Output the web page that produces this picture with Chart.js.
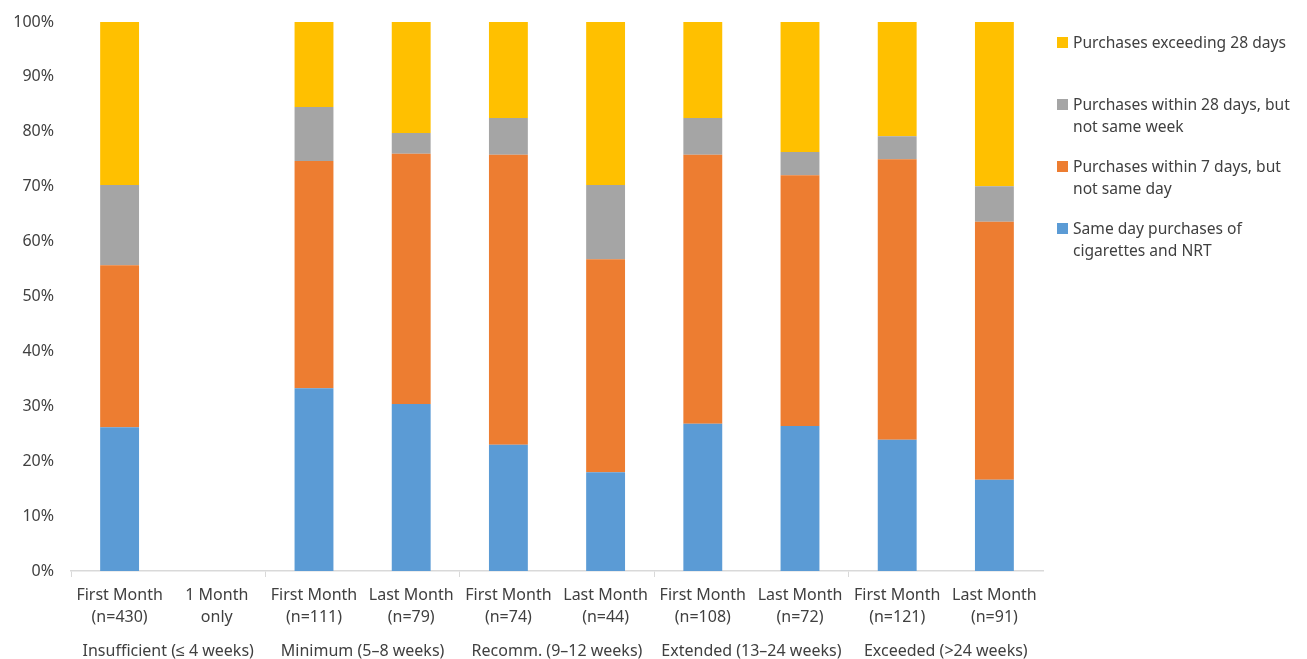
<!DOCTYPE html>
<html>
<head>
<meta charset="utf-8">
<script src="https://cdn.jsdelivr.net/npm/chart.js@4"></script>
<style>
  html, body { margin: 0; padding: 0; background: #fff; }
  #wrap { position: relative; width: 1307px; height: 659px; }
  #legend { position: absolute; left: 1057px; top: 31px; font-family: "Noto Sans", sans-serif; font-size: 15.6px; color: #404040; }
  .item { position: relative; height: 62px; padding-left: 16px; line-height: 22px; }
  .box { position: absolute; left: 0; top: 6px; width: 11px; height: 11px; }
</style>
</head>
<body>
<div id="wrap">
  <canvas id="chart" width="1307" height="659"></canvas>
  <div id="legend"></div>
</div>
<script>
const labels = [
    ['First Month', '(n=430)'], ['1 Month', 'only'],
    ['First Month', '(n=111)'], ['Last Month', '(n=79)'],
    ['First Month', '(n=74)'], ['Last Month', '(n=44)'],
    ['First Month', '(n=108)'], ['Last Month', '(n=72)'],
    ['First Month', '(n=121)'], ['Last Month', '(n=91)']
];
const groups = ['Insufficient (\u2264 4 weeks)', 'Minimum (5\u20138 weeks)', 'Recomm. (9\u201312 weeks)', 'Extended (13\u201324 weeks)', 'Exceeded (>24 weeks)'];

const sameDay = [26.2, null, 33.3, 30.4, 23.0, 18.0, 26.8, 26.4, 23.9, 16.6];
const within7 = [29.5, null, 41.4, 45.6, 52.8, 38.8, 49.0, 45.7, 51.1, 47.0];
const within28 = [14.6, null, 9.8, 3.8, 6.7, 13.5, 6.7, 4.2, 4.2, 6.5];
const exceeding = [29.7, null, 15.5, 20.2, 17.5, 29.7, 17.5, 23.7, 20.8, 29.9];

const seriesNames = [
    ['Same day purchases of', 'cigarettes and NRT'],
    ['Purchases within 7 days, but', 'not same day'],
    ['Purchases within 28 days, but', 'not same week'],
    ['Purchases exceeding 28 days']
];
const colors = ['#5B9BD5', '#ED7D31', '#A5A5A5', '#FFC000'];
const series = [sameDay, within7, within28, exceeding];

const textColor = '#404040';
const font = { family: '"Noto Sans", sans-serif', size: 16, lineHeight: 1.375 };

const ctx = document.getElementById('chart').getContext('2d');
const myChart = new Chart(ctx, {
    type: 'bar',
    data: {
        labels,
        datasets: series.map((d, i) => ({
            label: seriesNames[i].join(' '),
            data: d,
            backgroundColor: colors[i],
            borderWidth: 0,
            categoryPercentage: 1,
            barPercentage: 0.4
        }))
    },
    options: {
        responsive: false,
        animation: false,
        layout: { padding: { left: 13, right: 264, top: 22, bottom: -2 } },
        plugins: {
            legend: { display: false },
            tooltip: { enabled: false }
        },
        scales: {
            x: {
                stacked: true,
                weight: 0,
                afterFit: (s) => { s.height = 57; },
                grid: {
                    offset: true,
                    drawOnChartArea: false,
                    tickLength: 6,
                    color: (c) => (c.index % 2 === 0 ? '#d9d9d9' : 'rgba(0,0,0,0)')
                },
                border: { display: true, color: '#d9d9d9', width: 1.5 },
                ticks: { color: textColor, font, padding: 7, maxRotation: 0, autoSkip: false }
            },
            group: {
                type: 'category',
                position: 'bottom',
                labels: groups,
                offset: true,
                weight: 1,
                afterFit: (s) => { s.height = 33; },
                grid: { display: false },
                border: { display: false },
                ticks: { color: textColor, font, padding: 4, maxRotation: 0, autoSkip: false }
            },
            y: {
                stacked: true,
                min: 0,
                max: 100,
                afterFit: (s) => { s.width = 58; s.paddingTop = 0; s.paddingBottom = 0; },
                grid: { display: false, drawTicks: false },
                border: { display: false },
                ticks: {
                    stepSize: 10,
                    color: textColor,
                    font,
                    padding: 17,
                    callback: (v) => v + '%'
                }
            }
        }
    }
});

// legend on the right, last series first
const legend = document.getElementById('legend');
for (let i = series.length - 1; i >= 0; i--) {
    const item = document.createElement('div');
    item.className = 'item';
    const box = document.createElement('span');
    box.className = 'box';
    box.style.background = colors[i];
    item.appendChild(box);
    seriesNames[i].forEach((line, j) => {
        if (j > 0) item.appendChild(document.createElement('br'));
        item.appendChild(document.createTextNode(line));
    });
    legend.appendChild(item);
}
</script>
</body>
</html>
